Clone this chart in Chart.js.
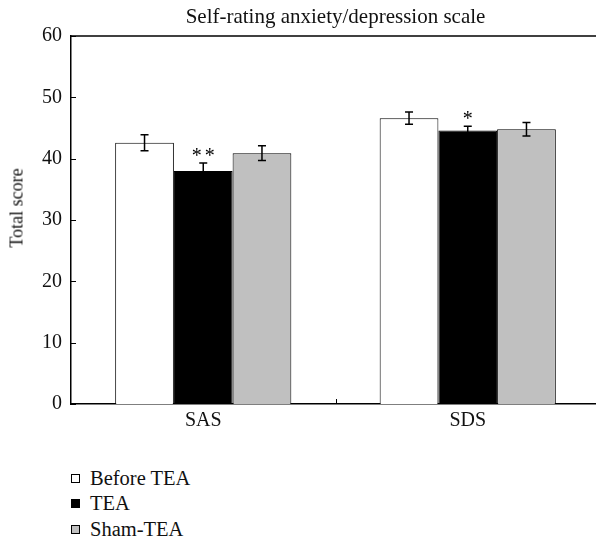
<!DOCTYPE html>
<html><head><meta charset="utf-8">
<script src="https://cdn.jsdelivr.net/npm/chart.js@4"></script>
<style>
html,body{margin:0;padding:0;background:#fff;overflow:hidden;width:596px;height:543px;}
#wrap{position:absolute;left:0;top:0;width:600px;height:440px;}
.ytitle{position:absolute;left:17px;top:208px;transform:translate(-50%,-50%) rotate(-90deg);font:18px "Liberation Serif",serif;color:#111;white-space:nowrap;}
.leg{position:absolute;left:71px;font:20.5px "Liberation Serif",serif;color:#111;}
.leg div{position:absolute;height:24px;line-height:24px;white-space:nowrap;}
.leg span{position:absolute;left:0;top:8px;width:7px;height:7px;border:1px solid #000;}
.leg b{font-weight:normal;position:absolute;left:19px;top:0;}
</style></head>
<body>
<div id="wrap"><canvas id="c" width="600" height="440"></canvas></div>
<div class="ytitle">Total score</div>
<div class="leg" id="leg"></div>
<script>
const categories = ["SAS", "SDS"];
const seriesNames = ["Before TEA", "TEA", "Sham-TEA"];
const beforeTEA = [42.6, 46.6];
const tea = [38.0, 44.6];
const shamTEA = [40.9, 44.8];
const beforeErr = [1.3, 1.0];
const teaErr = [1.3, 0.7];
const shamErr = [1.2, 1.1];
const teaStars = ["**", "*"];
const yTicks = [0, 10, 20, 30, 40, 50, 60];
const colors = ["#ffffff", "#000000", "#c0c0c0"];
const titleText = "Self-rating anxiety/depression scale";

const errs = [beforeErr, teaErr, shamErr];
const stars = [null, teaStars, null];
const serif = '"Liberation Serif", serif';

const extras = {
  id: 'extras',
  afterDatasetsDraw(chart) {
    const ctx = chart.ctx, ys = chart.scales.y, xs = chart.scales.x, ca = chart.chartArea;
    ctx.save();
    ctx.strokeStyle = '#000';
    ctx.lineWidth = 1.5;
    chart.data.datasets.forEach((ds, di) => {
      const meta = chart.getDatasetMeta(di);
      meta.data.forEach((bar, i) => {
        const v = ds.data[i], e = errs[di][i];
        const yt = ys.getPixelForValue(v + e), yb = ys.getPixelForValue(v - e);
        ctx.beginPath();
        ctx.moveTo(bar.x, yt); ctx.lineTo(bar.x, yb);
        ctx.moveTo(bar.x - 4, yt); ctx.lineTo(bar.x + 4, yt);
        ctx.moveTo(bar.x - 4, yb); ctx.lineTo(bar.x + 4, yb);
        ctx.stroke();
        if (stars[di]) {
          ctx.fillStyle = '#000';
          ctx.font = '20px ' + serif;
          ctx.letterSpacing = '3px';
          ctx.textAlign = 'center';
          ctx.textBaseline = 'alphabetic';
          ctx.fillText(stars[di][i], bar.x + 1.5, yt - 1);
          ctx.letterSpacing = '0px';
        }
      });
    });
    ctx.lineWidth = 1.5;
    ctx.beginPath();
    ctx.moveTo(ca.left, ca.top); ctx.lineTo(ca.right, ca.top);
    ctx.stroke();
    ctx.lineWidth = 1;
    yTicks.forEach(t => {
      const y = Math.round(ys.getPixelForValue(t)) + 0.5;
      ctx.beginPath(); ctx.moveTo(ca.left, y); ctx.lineTo(ca.left + 5, y); ctx.stroke();
    });
    for (let i = 0; i < categories.length - 1; i++) {
      const x = Math.round((xs.getPixelForValue(i) + xs.getPixelForValue(i + 1)) / 2) + 0.5;
      ctx.beginPath(); ctx.moveTo(x, ca.bottom); ctx.lineTo(x, ca.bottom - 5); ctx.stroke();
    }
    ctx.fillStyle = '#111';
    ctx.font = '21px ' + serif;
    ctx.textAlign = 'center';
    ctx.textBaseline = 'middle';
    ctx.fillText(titleText, (ca.left + ca.right) / 2, 17);
    ctx.restore();
  }
};

new Chart(document.getElementById('c'), {
  type: 'bar',
  data: {
    labels: categories,
    datasets: [beforeTEA, tea, shamTEA].map((d, i) => ({
      label: seriesNames[i], data: d,
      backgroundColor: colors[i], borderColor: '#000', borderWidth: 1,
      categoryPercentage: 0.666, barPercentage: 1
    }))
  },
  options: {
    responsive: false, animation: false,
    layout: { padding: { top: 36, left: 0, right: 0, bottom: 0 } },
    plugins: { legend: { display: false }, tooltip: { enabled: false }, title: { display: false } },
    scales: {
      x: {
        grid: { display: false, drawTicks: false },
        border: { display: true, color: '#000', width: 1.5 },
        ticks: { color: '#111', font: { family: serif, size: 20 }, padding: 5 },
        afterFit(s) { s.height = 36; }
      },
      y: {
        min: 0, max: 60,
        afterBuildTicks(s) { s.ticks = yTicks.map(v => ({ value: v })); },
        grid: { display: false, drawTicks: false },
        border: { display: true, color: '#000', width: 1.5 },
        ticks: { color: '#111', font: { family: serif, size: 20 }, padding: 9 },
        afterFit(s) { s.width = 71; }
      }
    }
  },
  plugins: [extras]
});

const leg = document.getElementById('leg');
const rowY = [466, 491, 517];
seriesNames.forEach((n, i) => {
  const d = document.createElement('div');
  d.style.top = rowY[i] + 'px';
  d.innerHTML = '<span style="background:' + colors[i] + '"></span><b>' + n + '</b>';
  leg.appendChild(d);
});
</script>
</body></html>
